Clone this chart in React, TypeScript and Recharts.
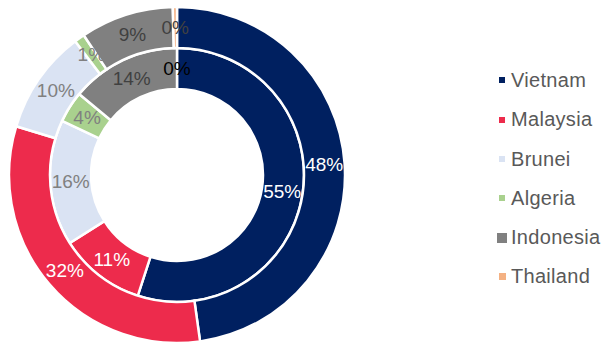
import { Pie, PieChart, Cell } from "recharts";

const countries = ["Vietnam", "Malaysia", "Brunei", "Algeria", "Indonesia", "Thailand"];
const outerValues = [48, 32, 10, 1, 9, 0.4];
const innerValues = [55, 11, 16, 4, 14, 0];

const colors = ["#002060", "#ED2B4C", "#DAE3F3", "#A9D18E", "#808080", "#F4B183"];
const outerLabelColors = ["#FFFFFF", "#FFFFFF", "#808080", "#808080", "#404040", "#404040"];
const innerLabelColors = ["#FFFFFF", "#FFFFFF", "#808080", "#808080", "#404040", "#000000"];
const markerSizes = [6, 6, 6, 6, 10, 7];

const outerData = countries.map((name, i) => ({ name, value: outerValues[i] }));
const innerData = countries.map((name, i) => ({ name, value: innerValues[i] }));

const RADIAN = Math.PI / 180;
const FONT = "'Liberation Sans', Arial, sans-serif";

function makeLabel(labelColors: string[]) {
  return (props: any) => {
    const { cx, cy, midAngle, innerRadius, outerRadius, percent, index } = props;
    const r = (innerRadius + outerRadius) / 2;
    const x = cx + r * Math.cos(-midAngle * RADIAN);
    const y = cy + r * Math.sin(-midAngle * RADIAN);
    return (
      <text
        x={x}
        y={y}
        fill={labelColors[index]}
        textAnchor="middle"
        dominantBaseline="central"
        fontSize={19}
        fontFamily={FONT}
      >
        {`${Math.round((percent ?? 0) * 100)}%`}
      </text>
    );
  };
}

function LegendBox() {
  return (
    <div style={{ position: "absolute", left: 495, top: 60.8, fontFamily: FONT }}>
      {countries.map((name, i) => (
        <div key={name} style={{ height: 39.3, display: "flex", alignItems: "center" }}>
          <div style={{ width: 14, display: "flex", justifyContent: "center" }}>
            <span
              style={{
                width: markerSizes[i],
                height: markerSizes[i],
                background: colors[i],
                display: "inline-block",
              }}
            />
          </div>
          <span style={{ marginLeft: 2, fontSize: 20, letterSpacing: 0.3, color: "#595959", whiteSpace: "nowrap" }}>
            {name}
          </span>
        </div>
      ))}
    </div>
  );
}

export default function App() {
  return (
    <div style={{ position: "absolute", left: 0, top: 0, width: 604, height: 345, background: "#fff" }}>
      <PieChart width={604} height={345} margin={{ top: 0, right: 0, bottom: 0, left: 0 }}>
        <Pie
          data={innerData}
          dataKey="value"
          cx={177}
          cy={175}
          innerRadius={86}
          outerRadius={127}
          startAngle={90}
          endAngle={-270}
          stroke="#FFFFFF"
          strokeWidth={2.5}
          label={makeLabel(innerLabelColors)}
          labelLine={false}
          isAnimationActive={false}
        >
          {innerData.map((d, i) => (
            <Cell key={d.name} fill={colors[i]} />
          ))}
        </Pie>
        <Pie
          data={outerData}
          dataKey="value"
          cx={177}
          cy={175}
          innerRadius={127}
          outerRadius={168}
          startAngle={90}
          endAngle={-270}
          stroke="#FFFFFF"
          strokeWidth={2.5}
          label={makeLabel(outerLabelColors)}
          labelLine={false}
          isAnimationActive={false}
        >
          {outerData.map((d, i) => (
            <Cell key={d.name} fill={colors[i]} />
          ))}
        </Pie>
      </PieChart>
      <LegendBox />
    </div>
  );
}
